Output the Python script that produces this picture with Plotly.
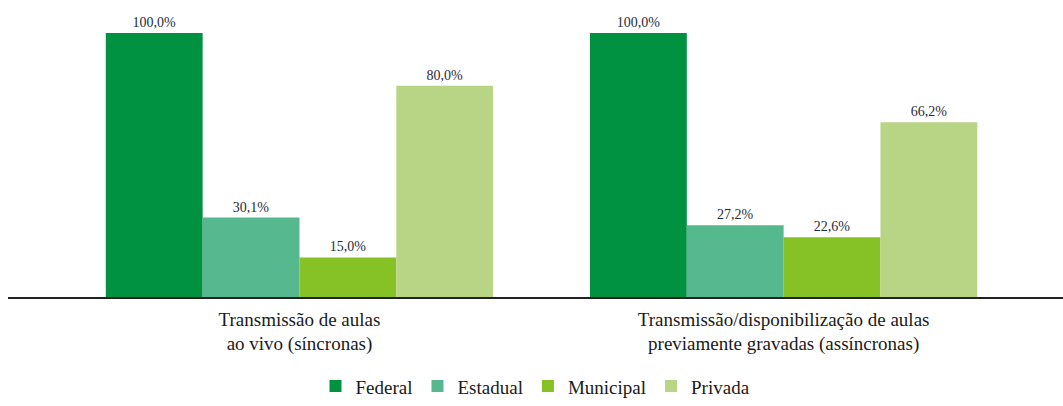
import plotly.graph_objects as go

categories = [
    "Transmissão de aulas<br>ao vivo (síncronas)",
    "Transmissão/disponibilização de aulas<br>previamente gravadas (assíncronas)",
]
series_names = ["Federal", "Estadual", "Municipal", "Privada"]
federal = [100.0, 100.0]
estadual = [30.1, 27.2]
municipal = [15.0, 22.6]
privada = [80.0, 66.2]
series_values = [federal, estadual, municipal, privada]
colors = ["#009240", "#55B88E", "#86C126", "#B8D585"]

SERIF = "Times New Roman"

fig = go.Figure()
for name, vals, col in zip(series_names, series_values, colors):
    fig.add_trace(go.Bar(
        name=name,
        x=[0, 1],
        y=vals,
        marker=dict(color=col, line=dict(width=0)),
        text=[f"{v:.1f}%".replace(".", ",") for v in vals],
        textposition="outside",
        textfont=dict(family=SERIF, size=14, color="#1F2D3D"),
        cliponaxis=False,
    ))

fig.update_layout(
    width=1063, height=406,
    barmode="group", bargap=0.2, bargroupgap=0,
    plot_bgcolor="white", paper_bgcolor="white",
    margin=dict(l=8, r=0, t=33, b=109, pad=0),
    showlegend=True,
    legend=dict(
        orientation="h", x=0.5, xanchor="center", y=-0.41, yanchor="bottom",
        font=dict(family=SERIF, size=19, color="#1a1a1a"),
        itemwidth=30, traceorder="normal",
    ),
    xaxis=dict(
        range=[-0.602, 1.577],
        tickmode="array", tickvals=[0, 1], ticktext=categories,
        tickfont=dict(family=SERIF, size=19, color="#1a1a1a"),
        ticklabelstandoff=4,
        showline=True, linecolor="#222222", linewidth=1.5,
        showgrid=False, zeroline=False, ticks="", automargin=False,
    ),
    yaxis=dict(
        range=[0, 100], visible=False, showgrid=False, zeroline=False,
    ),
)

fig.write_html("out.html")
